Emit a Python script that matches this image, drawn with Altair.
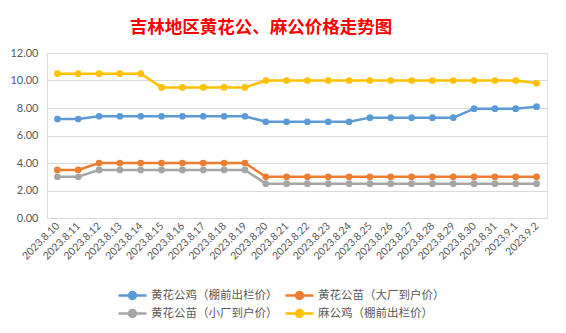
import altair as alt
import pandas as pd

dates = ["2023.8.10", "2023.8.11", "2023.8.12", "2023.8.13", "2023.8.14", "2023.8.15",
         "2023.8.16", "2023.8.17", "2023.8.18", "2023.8.19", "2023.8.20", "2023.8.21",
         "2023.8.22", "2023.8.23", "2023.8.24", "2023.8.25", "2023.8.26", "2023.8.27",
         "2023.8.28", "2023.8.29", "2023.8.30", "2023.8.31", "2023.9.1", "2023.9.2"]

series_names = ["黄花公鸡（棚前出栏价）", "黄花公苗（大厂到户价）",
                "黄花公苗（小厂到户价）", "麻公鸡（棚前出栏价）"]
series_colors = ["#5B9BD5", "#ED7D31", "#A5A5A5", "#FFC000"]

huang_ji = [7.2, 7.2, 7.4, 7.4, 7.4, 7.4, 7.4, 7.4, 7.4, 7.4, 7.0, 7.0,
            7.0, 7.0, 7.0, 7.3, 7.3, 7.3, 7.3, 7.3, 7.95, 7.95, 7.95, 8.1]
huang_miao_da = [3.5, 3.5, 4.0, 4.0, 4.0, 4.0, 4.0, 4.0, 4.0, 4.0, 3.0, 3.0,
                 3.0, 3.0, 3.0, 3.0, 3.0, 3.0, 3.0, 3.0, 3.0, 3.0, 3.0, 3.0]
huang_miao_xiao = [3.0, 3.0, 3.5, 3.5, 3.5, 3.5, 3.5, 3.5, 3.5, 3.5, 2.5, 2.5,
                   2.5, 2.5, 2.5, 2.5, 2.5, 2.5, 2.5, 2.5, 2.5, 2.5, 2.5, 2.5]
ma_ji = [10.5, 10.5, 10.5, 10.5, 10.5, 9.5, 9.5, 9.5, 9.5, 9.5, 10.0, 10.0,
         10.0, 10.0, 10.0, 10.0, 10.0, 10.0, 10.0, 10.0, 10.0, 10.0, 10.0, 9.8]

all_series = [huang_ji, huang_miao_da, huang_miao_xiao, ma_ji]
rows = []
for name, vals in zip(series_names, all_series):
    for d, v in zip(dates, vals):
        rows.append({"date": d, "price": v, "series": name})
df = pd.DataFrame(rows)

LABEL_COLOR = "#595959"
symbol_path = "M-2,0L2,0M-0.5,0A0.5,0.5,0,1,1,0.5,0A0.5,0.5,0,1,1,-0.5,0Z"

chart = alt.Chart(df).mark_line(
    strokeWidth=2.5,
    point=alt.OverlayMarkDef(size=45, filled=True, opacity=1),
).encode(
    x=alt.X("date:O", sort=dates, title=None,
            scale=alt.Scale(paddingInner=1, paddingOuter=0.5),
            axis=alt.Axis(labelAngle=-45, labelAlign="right", labelBaseline="middle",
                          labelFont="Lato", labelFontSize=10.5, labelColor=LABEL_COLOR,
                          labelPadding=6, ticks=False, domain=True, domainColor="#D9D9D9",
                          grid=False, labelOverlap=False)),
    y=alt.Y("price:Q", title=None,
            scale=alt.Scale(domain=[0, 12], nice=False),
            axis=alt.Axis(values=[0, 2, 4, 6, 8, 10, 12], format=".2f",
                          labelFont="Lato", labelFontSize=11, labelColor=LABEL_COLOR,
                          labelPadding=9, ticks=False, domain=False,
                          grid=True, gridColor="#D9D9D9", gridWidth=1)),
    color=alt.Color("series:N", sort=series_names,
                    scale=alt.Scale(domain=series_names, range=series_colors),
                    legend=alt.Legend(title=None, orient="none", legendX=77, legendY=234,
                                      columns=2, direction="horizontal",
                                      symbolType=symbol_path, symbolSize=196,
                                      symbolStrokeWidth=2.5,
                                      labelFont="Noto Sans CJK SC", labelFontSize=11.5,
                                      labelColor=LABEL_COLOR, labelOffset=10,
                                      columnPadding=2, rowPadding=1)),
).properties(
    width=500,
    height=165,
    title=alt.TitleParams(
        text="吉林地区黄花公、麻公价格走势图",
        color="#FF0000", font="Noto Sans CJK SC", fontSize=17.5, fontWeight="bold",
        anchor="middle", frame="group", dx=-36, offset=-3, baseline="alphabetic",
    ),
    autosize=alt.AutoSizeParams(type="none"),
    padding={"left": 47, "top": 53, "right": 19, "bottom": 115},
).configure_view(stroke=None).configure(background="white")

chart.save("out.html", embed_options={"renderer": "svg", "actions": False})
